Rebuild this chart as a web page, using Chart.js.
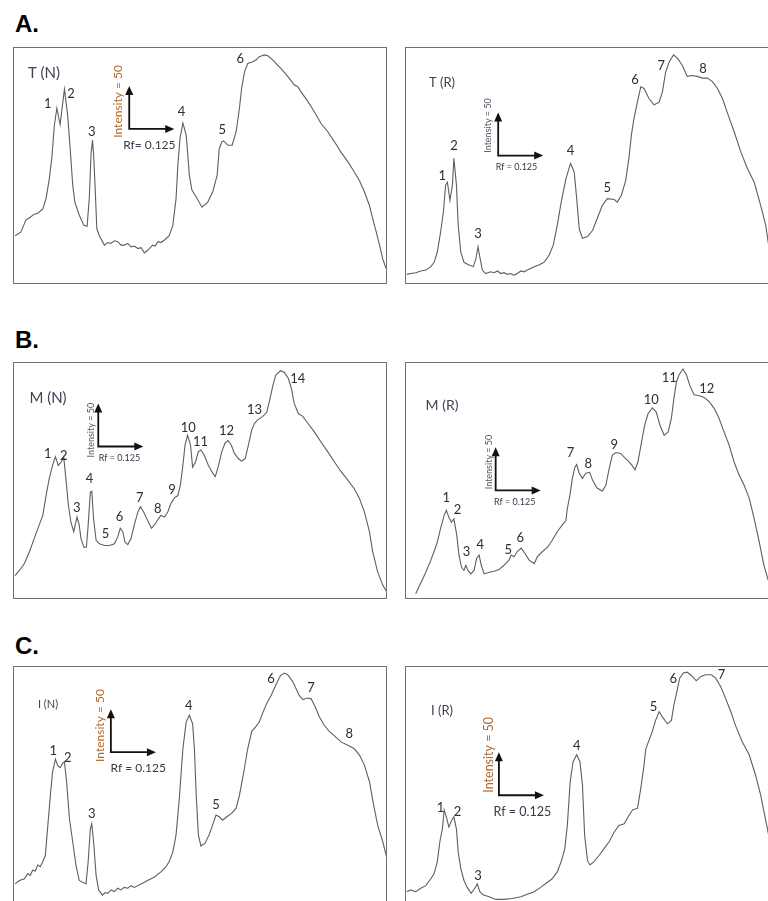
<!DOCTYPE html>
<html>
<head>
<meta charset="utf-8">
<script src="https://cdn.jsdelivr.net/npm/chart.js@4"></script>
<style>
  html, body { margin:0; padding:0; background:#fff; width:768px; height:901px; overflow:hidden; }
  .box { position:absolute; width:374px; height:237px; box-sizing:border-box; border:1px solid #707070; background:#fff; }
  .box canvas { display:block; }
  .letter { position:absolute; font:bold 24px "Liberation Sans", Arial, sans-serif; line-height:24px; color:#000; }
</style>
</head>
<body>
<div class="letter" style="left:15px;top:12px">A.</div>
<div class="letter" style="left:15px;top:328px">B.</div>
<div class="letter" style="left:15px;top:634px">C.</div>

<div class="box" style="left:13px;top:47px"><canvas id="tn" width="372" height="235"></canvas></div>
<div class="box" style="left:405px;top:47px"><canvas id="tr" width="372" height="235"></canvas></div>
<div class="box" style="left:13px;top:362px"><canvas id="mn" width="372" height="235"></canvas></div>
<div class="box" style="left:405px;top:362px"><canvas id="mr" width="372" height="235"></canvas></div>
<div class="box" style="left:13px;top:666px"><canvas id="in" width="372" height="235"></canvas></div>
<div class="box" style="left:405px;top:666px"><canvas id="ir" width="372" height="235"></canvas></div>

<script>
// ---------- DATA (Rf, intensity) ----------
const traceTN = [[0.003,55],[0.019,59],[0.033,73],[0.047,77],[0.056,80],[0.066,81],[0.080,86],[0.089,98],[0.098,121],[0.105,145],[0.112,183],[0.119,203],[0.128,184],[0.140,225],[0.149,195],[0.156,156],[0.163,114],[0.169,94],[0.181,79],[0.194,67],[0.203,66],[0.209,98],[0.214,150],[0.218,166],[0.221,150],[0.225,114],[0.230,63],[0.237,55],[0.251,44],[0.260,47],[0.269,46],[0.279,49],[0.288,48],[0.297,44],[0.306,44],[0.316,46],[0.325,42],[0.334,43],[0.344,40],[0.353,41],[0.362,35],[0.371,38],[0.385,44],[0.392,43],[0.399,48],[0.408,47],[0.418,50],[0.431,55],[0.441,67],[0.450,98],[0.455,137],[0.461,168],[0.469,186],[0.478,172],[0.482,152],[0.487,125],[0.494,108],[0.506,100],[0.522,88],[0.538,94],[0.552,106],[0.564,125],[0.570,156],[0.577,164],[0.582,165],[0.594,160],[0.606,160],[0.617,176],[0.626,203],[0.632,226],[0.640,245],[0.649,255],[0.663,257],[0.672,259],[0.681,263],[0.695,265],[0.705,264],[0.719,259],[0.732,253],[0.746,247],[0.760,240],[0.779,230],[0.788,228],[0.797,222],[0.816,211],[0.834,199],[0.853,185],[0.871,176],[0.890,164],[0.908,152],[0.927,141],[0.945,129],[0.959,119],[0.973,106],[0.987,90],[0.996,75],[1.006,59],[1.015,44],[1.024,28],[1.033,17],[1.040,9]];
const traceTR = [[0.002,10],[0.013,11],[0.027,12],[0.041,14],[0.055,15],[0.069,19],[0.078,24],[0.087,36],[0.096,59],[0.104,83],[0.110,114],[0.115,117],[0.122,96],[0.129,114],[0.133,145],[0.140,114],[0.145,67],[0.152,36],[0.161,24],[0.175,21],[0.187,19],[0.194,28],[0.200,42],[0.206,28],[0.212,15],[0.221,11],[0.235,13],[0.245,12],[0.254,14],[0.263,11],[0.272,12],[0.281,10],[0.291,11],[0.298,9],[0.305,10],[0.319,14],[0.328,13],[0.337,15],[0.356,19],[0.369,21],[0.383,24],[0.397,32],[0.409,44],[0.420,67],[0.431,94],[0.444,121],[0.457,139],[0.467,129],[0.474,98],[0.481,63],[0.490,52],[0.504,54],[0.518,61],[0.531,75],[0.545,90],[0.559,98],[0.578,97],[0.587,94],[0.598,102],[0.610,119],[0.619,145],[0.626,172],[0.633,191],[0.643,211],[0.652,228],[0.661,226],[0.675,214],[0.689,207],[0.703,210],[0.712,222],[0.721,245],[0.731,257],[0.743,265],[0.754,261],[0.767,253],[0.781,240],[0.795,241],[0.809,240],[0.823,238],[0.837,238],[0.851,234],[0.865,226],[0.879,214],[0.893,197],[0.911,176],[0.930,152],[0.948,133],[0.967,117],[0.985,90],[0.999,67],[1.007,44],[1.018,24],[1.031,9]];
const traceMN = [[0.003,26],[0.015,32],[0.029,40],[0.043,54],[0.056,69],[0.070,85],[0.080,96],[0.089,119],[0.098,139],[0.107,154],[0.115,164],[0.123,154],[0.131,158],[0.138,164],[0.144,139],[0.151,108],[0.158,88],[0.166,77],[0.170,85],[0.175,94],[0.181,85],[0.186,69],[0.194,59],[0.201,59],[0.206,85],[0.212,123],[0.216,124],[0.221,92],[0.228,67],[0.237,63],[0.251,61],[0.265,61],[0.279,63],[0.288,71],[0.295,81],[0.302,77],[0.308,65],[0.316,62],[0.325,69],[0.334,85],[0.344,100],[0.351,106],[0.360,100],[0.371,90],[0.382,81],[0.392,86],[0.401,92],[0.408,96],[0.418,94],[0.427,100],[0.436,110],[0.445,116],[0.455,119],[0.462,131],[0.469,154],[0.475,178],[0.482,189],[0.490,178],[0.496,152],[0.504,158],[0.512,170],[0.519,172],[0.528,166],[0.540,154],[0.552,145],[0.559,141],[0.568,154],[0.577,170],[0.586,180],[0.594,183],[0.603,178],[0.612,168],[0.623,162],[0.632,159],[0.642,162],[0.651,178],[0.660,195],[0.668,203],[0.677,207],[0.691,211],[0.702,216],[0.709,228],[0.719,247],[0.727,259],[0.740,264],[0.751,262],[0.762,255],[0.771,242],[0.778,226],[0.790,214],[0.802,211],[0.816,203],[0.834,193],[0.853,181],[0.871,170],[0.890,158],[0.908,147],[0.927,137],[0.945,127],[0.959,116],[0.973,100],[0.987,77],[0.996,54],[1.010,30],[1.024,15],[1.038,5]];
const traceMR = [[0.027,5],[0.036,13],[0.045,21],[0.055,30],[0.067,42],[0.078,54],[0.087,65],[0.096,81],[0.106,96],[0.112,102],[0.119,94],[0.126,88],[0.133,92],[0.141,73],[0.147,50],[0.154,36],[0.161,32],[0.166,38],[0.172,32],[0.180,28],[0.189,32],[0.196,46],[0.203,50],[0.209,38],[0.217,28],[0.231,30],[0.244,31],[0.258,33],[0.272,38],[0.286,44],[0.292,50],[0.300,48],[0.309,54],[0.320,58],[0.330,52],[0.342,44],[0.356,40],[0.365,48],[0.379,54],[0.393,59],[0.406,67],[0.420,77],[0.434,85],[0.444,90],[0.448,104],[0.455,119],[0.462,139],[0.469,152],[0.474,155],[0.481,145],[0.490,139],[0.499,145],[0.510,146],[0.518,137],[0.530,128],[0.545,124],[0.555,131],[0.564,150],[0.573,166],[0.583,169],[0.596,168],[0.610,162],[0.624,156],[0.636,149],[0.644,158],[0.654,181],[0.663,201],[0.672,214],[0.684,221],[0.695,216],[0.705,201],[0.717,189],[0.728,193],[0.737,209],[0.744,232],[0.751,251],[0.758,259],[0.769,266],[0.779,259],[0.788,247],[0.800,236],[0.814,235],[0.828,233],[0.842,228],[0.856,220],[0.869,209],[0.883,193],[0.897,178],[0.911,158],[0.925,143],[0.939,131],[0.953,116],[0.967,92],[0.981,65],[0.994,38],[1.007,19],[1.022,5]];
const traceIN = [[0.003,21],[0.015,25],[0.029,27],[0.038,33],[0.045,31],[0.052,37],[0.059,36],[0.066,43],[0.073,41],[0.080,47],[0.087,54],[0.094,89],[0.101,124],[0.107,151],[0.115,166],[0.121,159],[0.128,156],[0.135,161],[0.140,163],[0.146,140],[0.154,97],[0.163,70],[0.172,43],[0.181,25],[0.200,21],[0.206,47],[0.212,85],[0.216,91],[0.221,70],[0.228,31],[0.235,14],[0.246,8],[0.253,11],[0.260,10],[0.270,14],[0.279,12],[0.288,16],[0.297,14],[0.306,17],[0.316,16],[0.325,19],[0.334,17],[0.353,21],[0.371,25],[0.390,29],[0.408,35],[0.422,41],[0.431,47],[0.441,58],[0.450,78],[0.459,120],[0.469,178],[0.478,209],[0.487,217],[0.496,207],[0.501,178],[0.506,124],[0.512,78],[0.519,65],[0.530,68],[0.542,78],[0.551,89],[0.561,101],[0.570,99],[0.579,95],[0.591,99],[0.604,103],[0.617,109],[0.626,124],[0.638,151],[0.649,178],[0.660,198],[0.672,204],[0.681,209],[0.690,219],[0.702,231],[0.714,240],[0.727,252],[0.740,263],[0.751,266],[0.760,264],[0.774,256],[0.783,248],[0.792,240],[0.802,235],[0.814,237],[0.825,236],[0.836,227],[0.848,215],[0.862,205],[0.876,198],[0.890,193],[0.908,186],[0.927,182],[0.945,178],[0.959,171],[0.973,159],[0.987,140],[0.999,112],[1.010,89],[1.024,70],[1.038,47]];
const traceIR = [[0.002,12],[0.013,14],[0.027,12],[0.041,16],[0.055,19],[0.069,27],[0.078,33],[0.087,47],[0.094,70],[0.101,85],[0.106,107],[0.112,99],[0.119,87],[0.127,95],[0.133,99],[0.140,85],[0.145,58],[0.152,39],[0.161,25],[0.170,17],[0.181,10],[0.191,16],[0.198,21],[0.205,12],[0.215,8],[0.231,6],[0.249,3],[0.272,3],[0.295,4],[0.319,6],[0.337,9],[0.356,12],[0.374,17],[0.393,23],[0.406,27],[0.420,35],[0.431,47],[0.441,62],[0.448,89],[0.456,140],[0.464,163],[0.474,171],[0.483,163],[0.490,136],[0.496,78],[0.504,48],[0.511,43],[0.522,47],[0.536,54],[0.550,62],[0.564,70],[0.578,81],[0.591,89],[0.606,91],[0.617,99],[0.629,107],[0.643,109],[0.652,132],[0.661,159],[0.666,178],[0.675,188],[0.684,198],[0.693,211],[0.703,221],[0.712,215],[0.726,207],[0.737,211],[0.744,229],[0.751,242],[0.760,260],[0.770,266],[0.781,267],[0.795,262],[0.806,257],[0.819,262],[0.832,264],[0.848,264],[0.860,260],[0.874,250],[0.888,236],[0.902,221],[0.916,204],[0.934,186],[0.953,171],[0.971,147],[0.985,124],[0.996,101],[1.007,78],[1.022,47]];

// peak numbers
const peaksTN = ['1','2','3','4','5','6'];
const peaksTR = ['1','2','3','4','5','6','7','8'];
const peaksMN = ['1','2','3','4','5','6','7','8','9','10','11','12','13','14'];
const peaksMR = ['1','2','3','4','5','6','7','8','9','10','11','12'];
const peaksIN = ['1','2','3','4','5','6','7','8'];
const peaksIR = ['1','2','3','4','5','6','7'];

// panel titles and scale-bar captions
const panelTitles = ['T (N)','T (R)','M (N)','M (R)','I (N)','I (R)'];
const scaleIntensityText = 'Intensity = 50';
const scaleRfTextN = 'Rf= 0.125';
const scaleRfText = 'Rf = 0.125';
const scaleIntensity = 50;
const scaleRf = 0.125;

// ---------- LAYOUT (positions in Rf / intensity units) ----------
const panels = [
  { id:'tn', trace:traceTN, peaks:peaksTN, title:panelTitles[0], titlePos:[30,25], titleSize:15,
    peakPos:[[0.094,208],[0.158,220],[0.216,176],[0.465,199],[0.578,178],[0.628,260]],
    arrow:[0.320,179], intPos:[0.290,211], rfPos:[0.376,160], capSize:12, intColor:'#b06a2c', rfText:scaleRfTextN },
  { id:'tr', trace:traceTR, peaks:peaksTR, title:panelTitles[1], titlePos:[36,35], titleSize:13,
    peakPos:[[0.101,125],[0.133,159],[0.200,57],[0.457,154],[0.559,110],[0.636,236],[0.709,252],[0.825,249]],
    arrow:[0.256,148], intPos:[0.228,183], rfPos:[0.307,135], capSize:9, intColor:'#4e5566', rfText:scaleRfText },
  { id:'mn', trace:traceMN, peaks:peaksMN, title:panelTitles[2], titlePos:[34,35], titleSize:15,
    peakPos:[[0.094,168],[0.138,165],[0.174,105],[0.210,138],[0.254,75],[0.293,94],[0.349,116],[0.399,104],[0.439,126],[0.484,198],[0.518,181],[0.590,194],[0.668,219],[0.788,255]],
    arrow:[0.234,176], intPos:[0.214,195], rfPos:[0.293,162], capSize:9, intColor:'#4e5566', rfText:scaleRfText },
  { id:'mr', trace:traceMR, peaks:peaksMR, title:panelTitles[3], titlePos:[36,42], titleSize:14,
    peakPos:[[0.112,116],[0.143,102],[0.168,54],[0.206,62],[0.284,56],[0.317,70],[0.457,169],[0.506,156],[0.578,178],[0.681,230],[0.731,256],[0.835,243]],
    arrow:[0.249,125], intPos:[0.230,158], rfPos:[0.302,111], capSize:9, intColor:'#4e5566', rfText:scaleRfText },
  { id:'in', trace:traceIN, peaks:peaksIN, title:panelTitles[4], titlePos:[34,37], titleSize:11,
    peakPos:[[0.109,176],[0.149,167],[0.216,102],[0.485,228],[0.561,113],[0.714,259],[0.825,249],[0.931,195]],
    arrow:[0.269,174], intPos:[0.240,205], rfPos:[0.345,156], capSize:12, intColor:'#b06a2c', rfText:scaleRfText },
  { id:'ir', trace:traceIR, peaks:peaksIR, title:panelTitles[5], titlePos:[36,44], titleSize:13,
    peakPos:[[0.096,109],[0.143,105],[0.200,31],[0.474,182],[0.687,227],[0.742,259],[0.876,264]],
    arrow:[0.258,124], intPos:[0.231,171], rfPos:[0.323,105], capSize:12.5, intColor:'#b06a2c', rfText:scaleRfText }
];

const FONT = 'Lato, "Open Sans", sans-serif';

function makeAnnot(p) {
  return {
    id: 'annot_' + p.id,
    afterDatasetsDraw(chart) {
      const { ctx, chartArea: a, scales: { x, y } } = chart;
      ctx.save();
      ctx.textAlign = 'center';
      ctx.textBaseline = 'middle';
      // title
      ctx.fillStyle = '#3d4452';
      ctx.font = p.titleSize + 'px ' + FONT;
      ctx.fillText(p.title, a.left + p.titlePos[0], a.top + p.titlePos[1]);
      // peak numbers
      ctx.fillStyle = '#2e2e2e';
      ctx.font = '13px ' + FONT;
      p.peaks.forEach((t, i) => {
        const q = p.peakPos[i];
        ctx.fillText(t, x.getPixelForValue(q[0]), y.getPixelForValue(q[1]));
      });
      // scale bar arrows
      const ox = x.getPixelForValue(p.arrow[0]);
      const oy = y.getPixelForValue(p.arrow[1]);
      const tx = x.getPixelForValue(p.arrow[0] + scaleRf);
      const ty = y.getPixelForValue(p.arrow[1] + scaleIntensity);
      ctx.strokeStyle = '#111';
      ctx.fillStyle = '#111';
      ctx.lineWidth = 1.8;
      ctx.beginPath();
      ctx.moveTo(ox, ty + 7);
      ctx.lineTo(ox, oy);
      ctx.lineTo(tx - 7, oy);
      ctx.stroke();
      ctx.beginPath();
      ctx.moveTo(ox, ty); ctx.lineTo(ox - 4, ty + 9); ctx.lineTo(ox + 4, ty + 9); ctx.closePath(); ctx.fill();
      ctx.beginPath();
      ctx.moveTo(tx, oy); ctx.lineTo(tx - 9, oy - 4); ctx.lineTo(tx - 9, oy + 4); ctx.closePath(); ctx.fill();
      // captions
      ctx.font = p.capSize + 'px ' + FONT;
      ctx.fillStyle = p.intColor;
      ctx.save();
      ctx.translate(x.getPixelForValue(p.intPos[0]), y.getPixelForValue(p.intPos[1]));
      ctx.rotate(-Math.PI / 2);
      ctx.fillText(scaleIntensityText, 0, 0);
      ctx.restore();
      ctx.fillStyle = '#333a48';
      ctx.fillText(p.rfText, x.getPixelForValue(p.rfPos[0]), y.getPixelForValue(p.rfPos[1]));
      ctx.restore();
    }
  };
}

panels.forEach(p => {
  new Chart(document.getElementById(p.id), {
    type: 'line',
    data: {
      datasets: [{
        data: p.trace.map(d => ({ x: d[0], y: d[1] })),
        borderColor: '#5f5f5f',
        borderWidth: 1.1,
        pointRadius: 0,
        tension: 0,
        fill: false
      }]
    },
    options: {
      responsive: false,
      animation: false,
      events: [],
      layout: { padding: 0 },
      plugins: { legend: { display: false }, tooltip: { enabled: false }, title: { display: false } },
      scales: {
        x: { type: 'linear', min: 0, max: 1.033, display: false },
        y: { type: 'linear', min: 0, max: 273, display: false }
      }
    },
    plugins: [makeAnnot(p)]
  });
});
</script>
</body>
</html>
